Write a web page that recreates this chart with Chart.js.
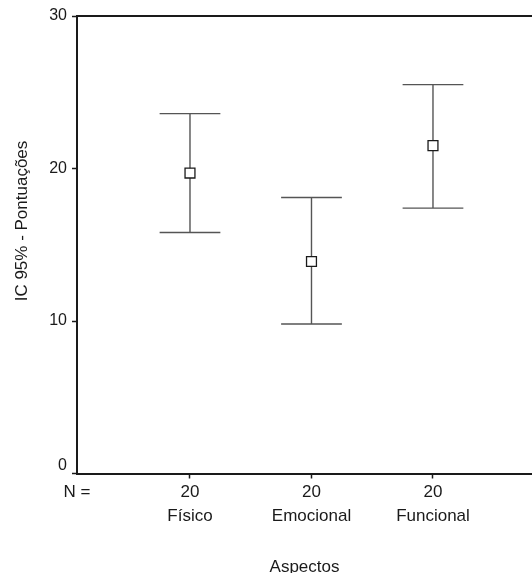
<!DOCTYPE html>
<html>
<head>
<meta charset="utf-8">
<script src="https://cdn.jsdelivr.net/npm/chart.js@4/dist/chart.umd.min.js"></script>
<style>
  body { margin: 0; background: #fff; }
  canvas { display: block; }
</style>
</head>
<body>
<canvas id="grafica-ic" width="532" height="573"></canvas>
<script>
// Datos
const categorias = ['Físico', 'Emocional', 'Funcional'];
const nCasos = [20, 20, 20];
const medias = [19.7, 13.9, 21.5];
const icInferior = [15.8, 9.8, 17.4];
const icSuperior = [23.6, 18.1, 25.5];
const ticksY = [0, 10, 20, 30];

const fuente = '"Liberation Sans", Arial, sans-serif';
const colorEje = '#1a1a1a';

// Posiciones x de las categorías (1, 2, 3)
const posX = categorias.map((c, i) => i + 1);
const xMin = 0.07;
const xMax = 3.815;

// Plugin: barras de error, borde superior, etiqueta 0 y título del eje y
const pluginExtras = {
    id: 'extras',
    beforeDatasetsDraw(chart) {
        const ctx = chart.ctx;
        const x = chart.scales.x;
        const y = chart.scales.y;
        ctx.save();
        ctx.strokeStyle = '#555';
        ctx.lineWidth = 1.4;
        posX.forEach((v, i) => {
            const px = x.getPixelForValue(v);
            const pInf = y.getPixelForValue(icInferior[i]);
            const pSup = y.getPixelForValue(icSuperior[i]);
            const anchoCap = (x.getPixelForValue(v + 0.25) - px);
            ctx.beginPath();
            ctx.moveTo(px, pInf);
            ctx.lineTo(px, pSup);
            ctx.moveTo(px - anchoCap, pInf);
            ctx.lineTo(px + anchoCap, pInf);
            ctx.moveTo(px - anchoCap, pSup);
            ctx.lineTo(px + anchoCap, pSup);
            ctx.stroke();
        });
        // borde superior
        const area = chart.chartArea;
        ctx.strokeStyle = colorEje;
        ctx.lineWidth = 2;
        ctx.beginPath();
        ctx.moveTo(area.left - 1, area.top);
        ctx.lineTo(chart.width, area.top);
        ctx.stroke();
        ctx.restore();
    },
    afterDraw(chart) {
        const ctx = chart.ctx;
        const y = chart.scales.y;
        ctx.save();
        ctx.fillStyle = colorEje;
        // la etiqueta 0 va un poco por encima de su marca
        ctx.font = '16px ' + fuente;
        ctx.textAlign = 'right';
        ctx.textBaseline = 'middle';
        ctx.fillText(String(ticksY[0]), y.right - 10, y.getPixelForValue(ticksY[0]) - 8);
        // título del eje y
        ctx.translate(22, 221);
        ctx.rotate(-Math.PI / 2);
        ctx.font = '17px ' + fuente;
        ctx.textAlign = 'center';
        ctx.fillText('IC 95% - Pontuações', 0, 0);
        ctx.restore();
    }
};

function crearGrafica() {
    const ctx = document.getElementById('grafica-ic').getContext('2d');
    new Chart(ctx, {
        type: 'scatter',
        data: {
            datasets: [{
                label: 'Média',
                data: posX.map((v, i) => ({ x: v, y: medias[i] })),
                pointStyle: 'rect',
                pointRadius: 7,
                pointHoverRadius: 7,
                backgroundColor: '#fff',
                borderColor: colorEje,
                borderWidth: 1.3
            }]
        },
        options: {
            responsive: false,
            animation: false,
            layout: { autoPadding: false, padding: { top: 16, right: 0, left: 0, bottom: 0 } },
            plugins: {
                legend: { display: false },
                tooltip: { enabled: false }
            },
            scales: {
                x: {
                    type: 'linear',
                    min: xMin,
                    max: xMax,
                    afterFit: scale => {
                        scale.height = 99.5;
                        scale.paddingLeft = 0;
                        scale.paddingRight = 0;
                    },
                    afterBuildTicks: scale => {
                        scale.ticks = [{ value: xMin }].concat(posX.map(v => ({ value: v })));
                    },
                    ticks: {
                        autoSkip: false,
                        maxRotation: 0,
                        padding: 2,
                        color: colorEje,
                        font: { family: fuente, size: 17, lineHeight: 1.42 },
                        callback: (value, index) => index === 0 ? ['N =', ''] : [String(nCasos[index - 1]), categorias[index - 1]]
                    },
                    grid: {
                        drawOnChartArea: false,
                        tickLength: 5,
                        tickWidth: 1.5,
                        tickColor: c => c.index === 0 ? 'rgba(0,0,0,0)' : colorEje
                    },
                    border: { color: colorEje, width: 2 },
                    title: {
                        display: true,
                        text: 'Aspectos',
                        color: colorEje,
                        font: { family: fuente, size: 17, lineHeight: 1.2 },
                        padding: { top: 0, bottom: -5 }
                    }
                },
                y: {
                    min: 0,
                    max: 30,
                    afterFit: scale => {
                        scale.width = 77;
                        scale.paddingTop = 0;
                        scale.paddingBottom = 0;
                    },
                    afterBuildTicks: scale => {
                        scale.ticks = ticksY.map(v => ({ value: v }));
                    },
                    ticks: {
                        padding: 5,
                        color: colorEje,
                        font: { family: fuente, size: 16 },
                        callback: v => v === ticksY[0] ? '' : String(v)
                    },
                    grid: {
                        drawOnChartArea: false,
                        tickLength: 5,
                        tickWidth: 1.5,
                        tickColor: colorEje
                    },
                    border: { color: colorEje, width: 2 }
                }
            }
        },
        plugins: [pluginExtras]
    });
}

crearGrafica();
</script>
</body>
</html>
